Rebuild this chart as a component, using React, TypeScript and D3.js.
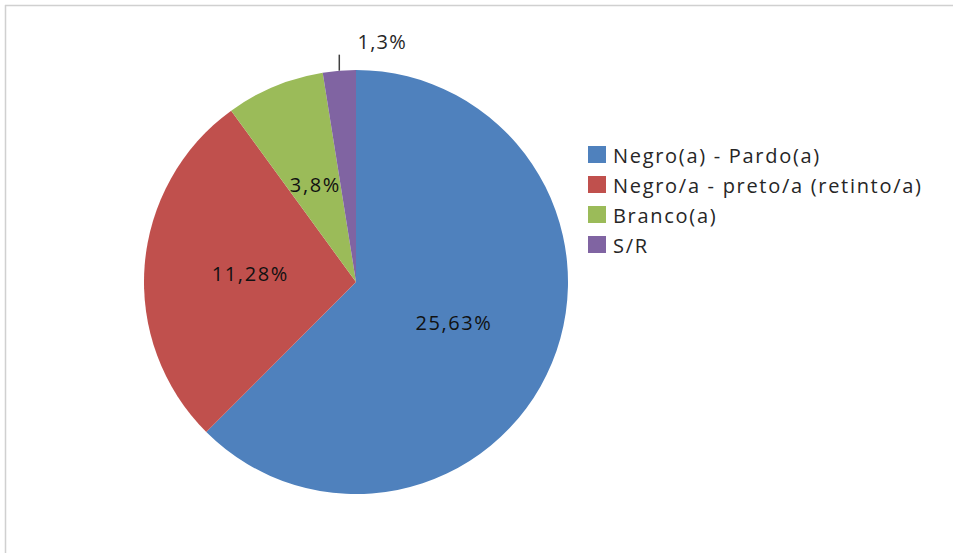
import React from "react";
import * as d3 from "d3";

const categories = ["Negro(a) - Pardo(a)", "Negro/a - preto/a (retinto/a)", "Branco(a)", "S/R"];
const values = [25.63, 11.28, 3.08, 1.03];
// data labels as printed on the chart
const labels = ["25,63%", "11,28%", "3,8%", "1,3%"];
const colors = ["#4F81BD", "#C0504D", "#9BBB59", "#8064A2"];

const W = 953;
const H = 553;
const cx = 356;
const cy = 282;
const R = 212;
const FONT = "'Open Sans', 'DejaVu Sans', sans-serif";

export default function App() {
  const pie = d3.pie<number>().sort(null).value((d) => d);
  const arcs = pie(values);
  const arcGen = d3.arc<d3.PieArcDatum<number>>().innerRadius(0).outerRadius(R);

  return (
    <svg width={W} height={H} style={{ position: "absolute", left: 0, top: 0 }}>
      <rect x={0} y={0} width={W} height={H} fill="#fff" />
      <line x1={5} y1={5.5} x2={W} y2={5.5} stroke="#d0d0d0" strokeWidth={1.5} />
      <line x1={5.5} y1={5} x2={5.5} y2={H} stroke="#d0d0d0" strokeWidth={1.5} />
      <g transform={`translate(${cx},${cy})`}>
        {arcs.map((a, i) => (
          <path key={i} d={arcGen(a) || ""} fill={colors[i]} />
        ))}
        {arcs.map((a, i) => {
          if (i === 3) {
            const mid = (a.startAngle + a.endAngle) / 2;
            const x = Math.sin(mid) * R;
            const y = -Math.cos(mid) * R;
            return (
              <g key={i}>
                <line x1={x} y1={y} x2={x} y2={y - 16} stroke="#404040" strokeWidth={1.5} />
                <text
                  x={x + 43}
                  y={y - 29}
                  textAnchor="middle"
                  dominantBaseline="central"
                  fontFamily={FONT}
                  fontSize={20}
                  letterSpacing={1.3}
                  fill="#262626"
                >
                  {labels[i]}
                </text>
              </g>
            );
          }
          const [px, py] = arcGen.centroid(a);
          return (
            <text
              key={i}
              x={px}
              y={py}
              textAnchor="middle"
              dominantBaseline="central"
              fontFamily={FONT}
              fontSize={20}
              letterSpacing={1.6}
              fill="#111"
            >
              {labels[i]}
            </text>
          );
        })}
      </g>
      <g>
        {categories.map((c, i) => (
          <g key={i} transform={`translate(588, ${146 + i * 30})`}>
            <rect x={0} y={0} width={18} height={17} fill={colors[i]} />
            <text
              x={25}
              y={9}
              dominantBaseline="central"
              fontFamily={FONT}
              fontSize={20}
              letterSpacing={1.7}
              fill="#262626"
            >
              {c}
            </text>
          </g>
        ))}
      </g>
    </svg>
  );
}
